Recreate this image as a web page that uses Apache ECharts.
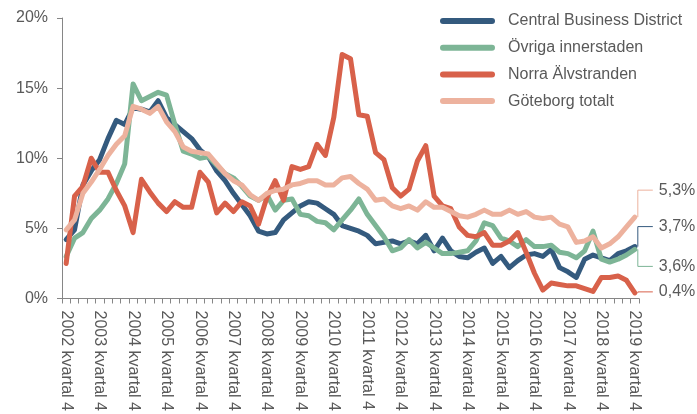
<!DOCTYPE html>
<html>
<head>
<meta charset="utf-8">
<script src="https://cdn.jsdelivr.net/npm/echarts@6/dist/echarts.min.js"></script>
<style>
  html, body { margin: 0; padding: 0; background: #fff; }
  #chart { width: 697px; height: 414px; }
</style>
</head>
<body>
<div id="chart"></div>
<script>
// quarters 2002 Q4 .. 2019 Q4
const categories = []
for (let y = 2002, q = 4; y < 2020; q++) {
  if (q > 4) { q = 1; y++ }
  if (y === 2020) break
  categories.push(y + ' kvartal ' + q)
}

const seriesNames = ['Central Business District', 'Övriga innerstaden', 'Norra Älvstranden', 'Göteborg totalt']

const cbd = [4.2, 4.9, 8.1, 9.1, 9.9, 11.4, 12.7, 12.4, 13.6, 13.5, 13.3, 14.1, 12.9, 12.4, 11.9, 11.4,
  10.6, 10.1, 9.1, 8.4, 7.5, 6.7, 5.9, 4.8, 4.6, 4.7, 5.6, 6.1, 6.6, 6.9, 6.8, 6.4, 6.0, 5.2, 5.0, 4.8,
  4.5, 3.9, 4.0, 4.1, 3.9, 4.1, 3.9, 4.5, 3.4, 4.3, 3.4, 3.0, 2.9, 3.3, 3.6, 2.5, 3.0, 2.2, 2.7, 3.1,
  3.2, 3.0, 3.5, 2.2, 1.9, 1.5, 2.8, 3.1, 2.9, 2.7, 3.2, 3.4, 3.7]

const ovriga = [3.0, 4.3, 4.7, 5.7, 6.3, 7.1, 8.2, 9.6, 15.3, 14.1, 14.4, 14.7, 14.5, 12.4, 10.5, 10.3,
  10.0, 10.1, 9.5, 8.9, 8.6, 8.0, 7.3, 7.0, 7.4, 6.3, 7.0, 7.1, 6.0, 5.9, 5.5, 5.4, 4.9, 5.6, 6.3, 7.1,
  6.0, 5.2, 4.4, 3.4, 3.6, 4.2, 3.6, 4.0, 3.6, 3.2, 3.2, 3.3, 3.4, 4.1, 5.4, 5.2, 4.3, 4.1, 3.7, 4.2,
  3.7, 3.7, 3.8, 3.3, 3.2, 2.9, 3.4, 4.8, 2.8, 2.6, 2.8, 3.1, 3.5]

const norra = [2.5, 7.3, 8.0, 10.0, 9.0, 9.0, 7.7, 6.6, 4.7, 8.5, 7.6, 6.8, 6.2, 6.9, 6.5, 6.5,
  9.0, 8.3, 6.1, 6.8, 6.2, 6.9, 6.6, 5.3, 7.2, 8.4, 7.0, 9.4, 9.2, 9.4, 11.0, 10.2, 12.9, 17.4, 17.1, 13.1,
  13.0, 10.4, 9.9, 7.9, 7.3, 7.8, 9.8, 10.9, 7.3, 6.6, 6.4, 5.1, 4.5, 4.4, 4.7, 3.8, 3.8, 4.1, 4.7, 3.3,
  1.8, 0.6, 1.1, 1.0, 0.9, 0.9, 0.7, 0.5, 1.5, 1.5, 1.6, 1.3, 0.4]

const goteborg = [4.9, 5.6, 7.5, 8.3, 9.2, 10.2, 11.0, 11.6, 13.7, 13.5, 13.2, 13.7, 12.6, 11.9, 10.8, 10.5,
  10.4, 10.3, 9.6, 8.9, 8.4, 8.1, 7.4, 7.0, 7.5, 7.7, 7.8, 8.1, 8.2, 8.4, 8.4, 8.1, 8.1, 8.6, 8.7, 8.2,
  7.8, 7.0, 7.1, 6.6, 6.4, 6.6, 6.3, 6.9, 6.5, 6.5, 6.2, 5.9, 5.8, 6.0, 6.3, 6.0, 6.0, 6.3, 6.0, 6.2,
  5.8, 5.7, 5.8, 5.3, 5.1, 4.0, 4.1, 4.4, 3.6, 3.9, 4.4, 5.1, 5.8]

// end-of-line labels as printed in the chart
const endLabels = ['3,7%', '3,6%', '0,4%', '5,3%']

const colors = ['#345a7e', '#7db596', '#d8614a', '#edb29e']
const labelShift = [-20, 17, -1, -27]
const textColor = '#595959'
const axisColor = '#868686'
const font = "'Liberation Sans', Arial, sans-serif"

const chart = echarts.init(document.getElementById('chart'))
const values = [cbd, ovriga, norra, goteborg]

chart.setOption({
  animation: false,
  grid: { left: 62, right: 58, top: 18, bottom: 110 },
  legend: {
    orient: 'vertical',
    left: 440,
    top: 13,
    padding: 0,
    itemWidth: 55,
    itemHeight: 6,
    itemGap: 10.7,
    icon: 'path://M3,0 L52,0 A3,3 0 0 1 52,6 L3,6 A3,3 0 0 1 3,0 Z',
    textStyle: { color: textColor, fontSize: 16, fontFamily: font, padding: [0, 0, 0, 8] },
    data: seriesNames,
  },
  xAxis: {
    type: 'category',
    boundaryGap: true,
    data: categories,
    axisLine: { lineStyle: { color: axisColor, width: 1 } },
    axisTick: { show: true, interval: 0, length: 5, lineStyle: { color: axisColor } },
    axisLabel: {
      interval: 3,
      rotate: -90,
      margin: 12,
      color: textColor,
      fontSize: 16,
      fontFamily: font,
    },
  },
  yAxis: {
    type: 'value',
    min: 0,
    max: 20,
    interval: 5,
    axisLine: { show: true, lineStyle: { color: axisColor, width: 1 } },
    axisTick: { show: true, length: 5, lineStyle: { color: axisColor } },
    splitLine: { show: false },
    axisLabel: { formatter: '{value}%', color: textColor, fontSize: 16, fontFamily: font, margin: 14 },
  },
  series: seriesNames.map((name, k) => ({
    name: name,
    type: 'line',
    data: values[k],
    symbol: 'none',
    color: colors[k],
    lineStyle: { width: 5, color: colors[k], cap: 'round', join: 'round' },
    emphasis: { disabled: true },
  })),
})

// leader lines + end labels, placed from the last point of each series
const graphics = []
values.forEach((vals, k) => {
  const last = vals.length - 1
  const p = chart.convertToPixel({ xAxisIndex: 0, yAxisIndex: 0 }, [last, vals[last]])
  const ty = p[1] + labelShift[k]
  graphics.push({
    type: 'polyline',
    shape: { points: [[p[0] + 3, p[1]], [p[0] + 3, ty], [p[0] + 18, ty]] },
    style: { stroke: colors[k], lineWidth: 1, fill: null },
    z: 10,
  })
  graphics.push({
    type: 'text',
    x: p[0] + 24,
    y: ty,
    style: {
      text: endLabels[k],
      fill: textColor,
      font: '16px ' + font,
      verticalAlign: 'middle',
    },
    z: 10,
  })
})
chart.setOption({ graphic: graphics })
</script>
</body>
</html>
